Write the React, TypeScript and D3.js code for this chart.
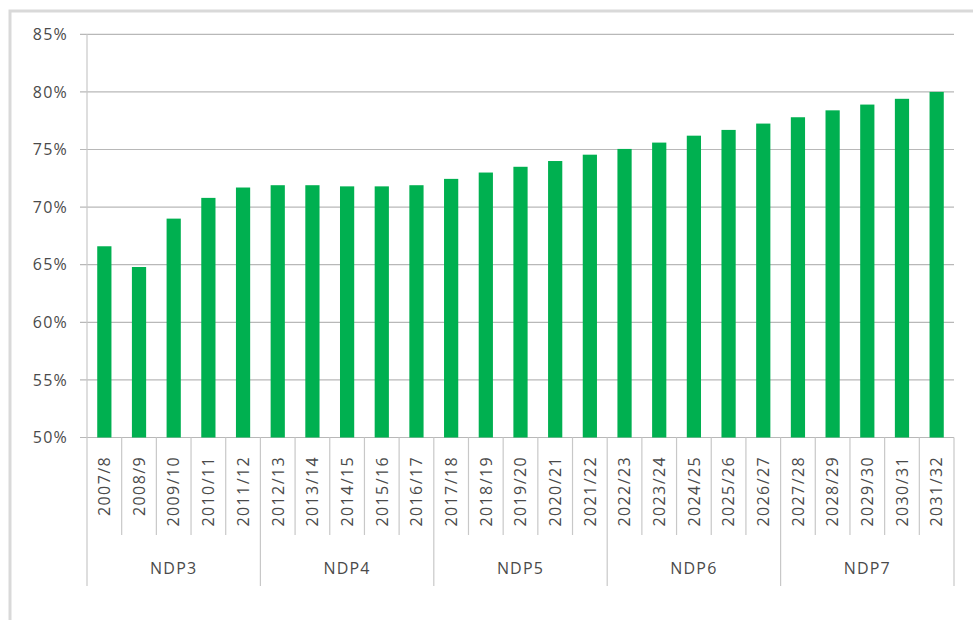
import React from "react";
import * as d3 from "d3";

const categories = [
  "2007/8", "2008/9", "2009/10", "2010/11", "2011/12",
  "2012/13", "2013/14", "2014/15", "2015/16", "2016/17",
  "2017/18", "2018/19", "2019/20", "2020/21", "2021/22",
  "2022/23", "2023/24", "2024/25", "2025/26", "2026/27",
  "2027/28", "2028/29", "2029/30", "2030/31", "2031/32",
];
const values = [
  66.6, 64.8, 69.0, 70.8, 71.7,
  71.9, 71.9, 71.8, 71.8, 71.9,
  72.45, 73.0, 73.5, 74.0, 74.55,
  75.05, 75.6, 76.2, 76.7, 77.25,
  77.8, 78.4, 78.9, 79.4, 80.0,
];
const groups = ["NDP3", "NDP4", "NDP5", "NDP6", "NDP7"];
const groupSize = 5;
const yTicks = [50, 55, 60, 65, 70, 75, 80, 85];

const W = 973;
const H = 620;
const left = 87;
const right = 954;
const top = 34.3;
const bottom = 437.5;
const catLineBottom = 535;
const groupLineBottom = 586;
const font = "'Open Sans', sans-serif";
const textColor = "#4a4a4a";
const gridColor = "#b8b8b8";
const sepColor = "#c8c8c8";
const barColor = "#00B050";

export default function App() {
  const x = d3.scaleBand<string>().domain(categories).range([left, right]).paddingInner(0).paddingOuter(0);
  const y = d3.scaleLinear().domain([50, 85]).range([bottom, top]);
  const bw = x.bandwidth();
  const barW = bw * 0.41;

  return (
    <svg width={W} height={H} style={{ position: "absolute", left: 0, top: 0, display: "block" }}>
      <rect x={0} y={0} width={W} height={H} fill="#fff" />
      <rect x={10} y={11} width={W + 20} height={H + 20} fill="none" stroke="#d9d9d9" strokeWidth={3} />

      {yTicks.map((t) => (
        <g key={t}>
          <line x1={80} x2={right} y1={y(t)} y2={y(t)} stroke={gridColor} strokeWidth={1.2} />
          <text
            x={68}
            y={y(t)}
            dy="0.36em"
            textAnchor="end"
            fontFamily={font}
            fontSize={16}
            letterSpacing={1.2}
            fill={textColor}
          >
            {t}%
          </text>
        </g>
      ))}

      {categories.map((c, i) => (
        <rect
          key={c}
          x={(x(c) as number) + (bw - barW) / 2}
          y={y(values[i])}
          width={barW}
          height={y(50) - y(values[i])}
          fill={barColor}
        />
      ))}

      <line x1={left} x2={left} y1={top} y2={groupLineBottom} stroke={sepColor} strokeWidth={1.2} />

      {categories.map((c, i) => {
        const xx = (x(c) as number) + bw;
        const isGroupEnd = (i + 1) % groupSize === 0;
        return (
          <line
            key={"s" + c}
            x1={xx}
            x2={xx}
            y1={bottom}
            y2={isGroupEnd ? groupLineBottom : catLineBottom}
            stroke={sepColor}
            strokeWidth={1.2}
          />
        );
      })}

      {categories.map((c) => {
        const cx = (x(c) as number) + bw / 2;
        return (
          <text
            key={"l" + c}
            transform={`translate(${cx},456) rotate(-90)`}
            dy="0.36em"
            textAnchor="end"
            fontFamily={font}
            fontSize={16}
            letterSpacing={1.4}
            fill={textColor}
          >
            {c}
          </text>
        );
      })}

      {groups.map((g, gi) => {
        const x0 = x(categories[gi * groupSize]) as number;
        const x1 = (x(categories[gi * groupSize + groupSize - 1]) as number) + bw;
        return (
          <text
            key={g}
            x={(x0 + x1) / 2}
            y={568}
            dy="0.36em"
            textAnchor="middle"
            fontFamily={font}
            fontSize={16}
            letterSpacing={1.2}
            fill={textColor}
          >
            {g}
          </text>
        );
      })}
    </svg>
  );
}
